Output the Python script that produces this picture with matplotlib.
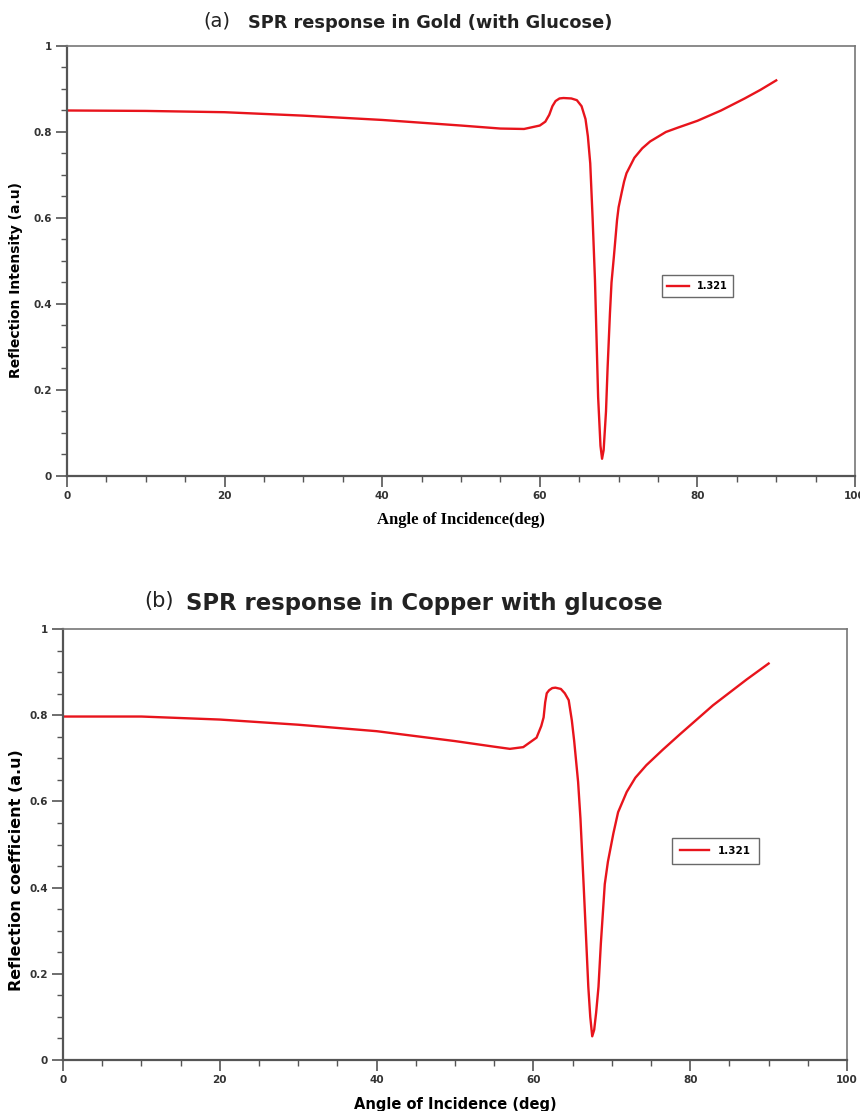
import matplotlib
matplotlib.use("Agg")
import matplotlib.pyplot as plt
from matplotlib.ticker import MultipleLocator, FuncFormatter

# gold, 1.321
gold_angle = [0, 10, 20, 30, 40, 50, 55, 58, 60, 60.7, 61.2, 61.6, 62.0, 62.5, 63, 64,
              64.7, 65.3, 65.8, 66.1, 66.4, 66.7, 67.0, 67.4, 67.7, 67.9, 68.1, 68.4,
              68.6, 68.9, 69.1, 69.4, 69.8, 70.0, 70.4, 70.7, 71.0, 71.5, 72.0, 73.0,
              74.0, 75.0, 76.0, 77.5, 80, 83, 86, 88, 90]
gold_refl = [0.850, 0.849, 0.846, 0.838, 0.828, 0.815, 0.808, 0.807, 0.815, 0.824,
             0.840, 0.860, 0.872, 0.878, 0.879, 0.878, 0.874, 0.860, 0.830, 0.790,
             0.727, 0.600, 0.456, 0.184, 0.07, 0.04, 0.06, 0.15, 0.25, 0.378, 0.45,
             0.51, 0.595, 0.625, 0.66, 0.685, 0.704, 0.722, 0.74, 0.762, 0.778,
             0.789, 0.80, 0.81, 0.826, 0.85, 0.878, 0.898, 0.92]

# copper, 1.321
cu_angle = [0, 10, 20, 30, 40, 50, 55, 57, 58.7, 60.4, 61.0, 61.3, 61.5, 61.7, 62.0,
            62.4, 62.8, 63.5, 64.0, 64.5, 64.9, 65.2, 65.7, 66.0, 66.4, 66.7, 67.0,
            67.25, 67.5, 67.75, 68.0, 68.3, 68.6, 69.1, 69.5, 70.2, 70.8, 71.9, 73.0,
            74.4, 76.5, 78.7, 82.9, 87.2, 90]
cu_refl = [0.797, 0.797, 0.790, 0.778, 0.763, 0.740, 0.727, 0.722, 0.726, 0.748,
           0.775, 0.795, 0.830, 0.851, 0.858, 0.863, 0.864, 0.861, 0.851, 0.835,
           0.788, 0.740, 0.645, 0.56, 0.408, 0.29, 0.17, 0.10, 0.055, 0.07, 0.11,
           0.17, 0.27, 0.408, 0.46, 0.526, 0.575, 0.622, 0.655, 0.684, 0.72, 0.756,
           0.823, 0.883, 0.92]

series_label = "1.321"
x_ticks = [0, 20, 40, 60, 80, 100]
y_ticks = [0, 0.2, 0.4, 0.6, 0.8, 1]

red = "#e8141c"


def style_axes(ax):
    ax.set_xlim(0, 100)
    ax.set_ylim(0, 1)
    ax.set_xticks(x_ticks)
    ax.set_yticks(y_ticks)
    ax.xaxis.set_minor_locator(MultipleLocator(5))
    ax.yaxis.set_minor_locator(MultipleLocator(0.05))
    ax.yaxis.set_major_formatter(FuncFormatter(lambda v, p: "%g" % v))
    ax.tick_params(which="major", direction="out", length=8, width=1.2, color="#555555",
                   labelsize=7.5, pad=3)
    ax.tick_params(which="minor", direction="out", length=4, width=1.0, color="#555555")
    for lab in ax.get_xticklabels() + ax.get_yticklabels():
        lab.set_fontweight("bold")
        lab.set_color("#333333")
    for side in ["left", "bottom"]:
        ax.spines[side].set_color("#555555")
        ax.spines[side].set_linewidth(1.6)
    for side in ["top", "right"]:
        ax.spines[side].set_color("#777777")
        ax.spines[side].set_linewidth(1.2)


fig = plt.figure(figsize=(8.6, 11.11), dpi=100)

# (a) gold
ax1 = fig.add_axes([0.0779, 0.5716, 0.9163, 0.387])
ax1.plot(gold_angle, gold_refl, color=red, lw=1.7, label=series_label)
style_axes(ax1)
ax1.set_ylabel("Reflection Intensity (a.u)", fontsize=10, fontweight="bold")
ax1.yaxis.set_label_coords(-0.056, 0.455)
ax1.set_xlabel("Angle of Incidence(deg)", fontsize=12, fontweight="bold",
               family="Liberation Serif")
ax1.xaxis.set_label_coords(0.5, -0.085)
leg1 = ax1.legend(loc="center", bbox_to_anchor=(0.80, 0.442), fancybox=False,
                  edgecolor="#444444", prop={"size": 7, "weight": "bold"},
                  handlelength=2.2, borderpad=0.6)
leg1.get_frame().set_linewidth(1.0)
fig.text(0.268, 0.981, "(a)", fontsize=14, ha="right", va="center", color="#222222")
fig.text(0.288, 0.979, "SPR response in Gold (with Glucose)", fontsize=12.8,
         fontweight="bold", ha="left", va="center", color="#222222")

# (b) copper
ax2 = fig.add_axes([0.0733, 0.0459, 0.9116, 0.3879])
ax2.plot(cu_angle, cu_refl, color=red, lw=1.7, label=series_label)
style_axes(ax2)
ax2.set_ylabel("Reflection coefficient (a.u)", fontsize=11.5, fontweight="bold")
ax2.yaxis.set_label_coords(-0.05, 0.44)
ax2.set_xlabel("Angle of Incidence (deg)", fontsize=10.5, fontweight="bold")
ax2.xaxis.set_label_coords(0.5, -0.085)
leg2 = ax2.legend(loc="center", bbox_to_anchor=(0.832, 0.485), fancybox=False,
                  edgecolor="#444444", prop={"size": 7.5, "weight": "bold"},
                  handlelength=2.8, borderpad=0.8)
leg2.get_frame().set_linewidth(1.0)
fig.text(0.202, 0.459, "(b)", fontsize=15, ha="right", va="center", color="#222222")
fig.text(0.216, 0.457, "SPR response in Copper with glucose", fontsize=16.4,
         fontweight="bold", ha="left", va="center", color="#222222")

fig.savefig("out.png", dpi=100)
